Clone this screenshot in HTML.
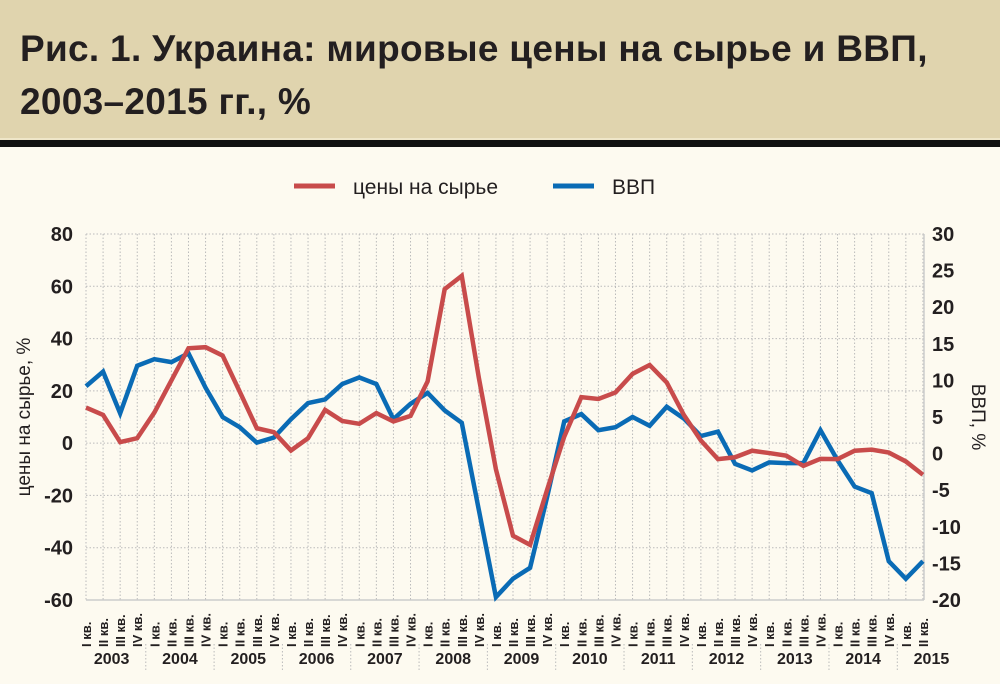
<!DOCTYPE html>
<html><head><meta charset="utf-8">
<style>
html,body{margin:0;padding:0;}
body{width:1000px;height:684px;background:#fdfaf0;font-family:"Liberation Sans","Noto Sans CJK SC",sans-serif;overflow:hidden;position:relative;}
#hdr{position:absolute;left:0;top:0;width:1000px;height:138px;background:#e0d4ae;border-bottom:2px solid #efe6c8;}
#bar{position:absolute;left:0;top:140px;width:1000px;height:7px;background:#111;}
#title{position:absolute;left:20px;top:22px;font-weight:bold;font-size:37px;line-height:53px;color:#231f20;white-space:nowrap;letter-spacing:0.3px;}
svg{position:absolute;left:0;top:0;}
</style></head><body>
<div id="hdr"></div>
<div id="bar"></div>
<div id="title">Рис. 1. Украина: мировые цены на сырье и ВВП,<br>2003–2015 гг., %</div>
<svg id="chart" width="1000" height="684"></svg>
<script>
const years = ["2003","2004","2005","2006","2007","2008","2009","2010","2011","2012","2013","2014","2015"];
const quarterNames = ["I кв.","II кв.","III кв.","IV кв."];
const leftTicks = [80,60,40,20,0,-20,-40,-60];
const rightTicks = [30,25,20,15,10,5,0,-5,-10,-15,-20];
const commodity = [13.6,10.8,0.4,1.9,11.7,24,36.3,36.7,33.5,19.7,5.7,4.2,-2.8,1.9,12.7,8.5,7.4,11.5,8.3,10.4,23.6,58.9,64,25,-10,-35.4,-38.9,-17.8,2.5,17.6,16.9,19.4,26.5,29.9,23.2,10.8,1,-6.1,-5.4,-2.9,-3.8,-4.8,-8.7,-6,-6.1,-2.9,-2.5,-3.6,-7,-12.1];
const gdp = [9.2,11.2,5.5,12,12.9,12.5,13.7,9,5,3.6,1.5,2.2,4.7,6.9,7.4,9.5,10.4,9.5,4.7,6.8,8.3,5.9,4.2,-7.7,-19.6,-17.1,-15.6,-5.9,4.4,5.4,3.2,3.6,5,3.8,6.4,4.8,2.4,3,-1.4,-2.3,-1.2,-1.3,-1.3,3.2,-0.9,-4.5,-5.4,-14.7,-17.1,-14.7];

const NS="http://www.w3.org/2000/svg";
const svg=document.getElementById('chart');
const X0=86, DX=17.08, TOP=234, BOT=600, RIGHT=924;
const xq=i=>X0+DX*i;
const yL=v=>TOP+(80-v)*(BOT-TOP)/140;
const yR=v=>TOP+(30-v)*(BOT-TOP)/50;
function mk(tag,attrs,parent){const e=document.createElementNS(NS,tag);for(const k in attrs)e.setAttribute(k,attrs[k]);(parent||svg).appendChild(e);return e;}

const grid=mk('g',{});


leftTicks.forEach(v=>{mk('line',{x1:X0,x2:RIGHT,y1:yL(v),y2:yL(v),stroke:'#bbb','stroke-width':1,'stroke-dasharray':'1.5,2'},grid);});
commodity.forEach((_,i)=>{mk('line',{x1:xq(i),x2:xq(i),y1:TOP,y2:BOT,stroke:'#bbb','stroke-width':1,'stroke-dasharray':'1.5,2'},grid);});
mk('line',{x1:X0,x2:RIGHT,y1:BOT,y2:BOT,stroke:'#ccc','stroke-width':1.5},grid);
mk('line',{x1:RIGHT,x2:RIGHT,y1:TOP,y2:BOT,stroke:'#ccc','stroke-width':1.5},grid);

leftTicks.forEach(v=>{const t=mk('text',{x:73,y:yL(v)+7,'text-anchor':'end','font-size':20,'font-weight':'bold',fill:'#231f20'});t.textContent=v;

});
rightTicks.forEach(v=>{const t=mk('text',{x:932,y:yR(v)+7,'font-size':20,'font-weight':'bold',fill:'#231f20'});t.textContent=v;

});

let t=mk('text',{x:0,y:0,transform:'translate(30,417) rotate(-90)','text-anchor':'middle','font-size':19,fill:'#231f20'});t.textContent='цены на сырье, %';


t=mk('text',{x:0,y:0,transform:'translate(972,417) rotate(90)','text-anchor':'middle','font-size':19,fill:'#231f20'});t.textContent='ВВП, %';



commodity.forEach((_,i)=>{const q=mk('text',{x:0,y:0,transform:`translate(${xq(i)+5},647) rotate(-90)`,'font-size':13,'font-weight':'bold',fill:'#231f20'});q.textContent=quarterNames[i%4];

});
years.forEach((y,k)=>{const cx=xq(k*4+1.5);const yt=mk('text',{x:cx,y:664,'text-anchor':'middle','font-size':16,'font-weight':'bold',fill:'#231f20'});yt.textContent=y;


if(k>0){mk('line',{x1:xq(k*4-0.5),x2:xq(k*4-0.5),y1:644,y2:672,stroke:'#bbb','stroke-dasharray':'1.5,2'});}});

function line(vals,yf,color,name){const p=mk('polyline',{points:vals.map((v,i)=>xq(i)+','+yf(v)).join(' '),fill:'none',stroke:color,'stroke-width':4.5,'stroke-linejoin':'miter'});

}
line(gdp,yR,'#0a6bb5','gdp-line');
line(commodity,yL,'#c84b4b','commodity-price-line');

const lg=mk('g',{});


mk('line',{x1:294,x2:335,y1:186,y2:186,stroke:'#c84b4b','stroke-width':5},lg);
let l1=mk('text',{x:353,y:194,'font-size':21,fill:'#231f20'},lg);l1.textContent='цены на сырье';


mk('line',{x1:553,x2:594,y1:186,y2:186,stroke:'#0a6bb5','stroke-width':5},lg);
let l2=mk('text',{x:612,y:194,'font-size':21,fill:'#231f20'},lg);l2.textContent='ВВП';


</script>
</body></html>
